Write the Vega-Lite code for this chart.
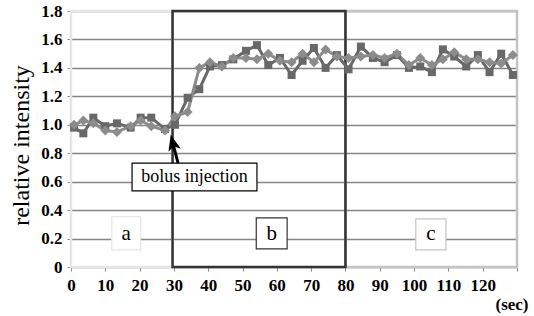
{
  "$schema": "https://vega.github.io/schema/vega-lite/v6.json",
  "width": 446,
  "height": 256,
  "autosize": {"type": "none"},
  "padding": {"left": 71, "top": 11, "right": 17, "bottom": 49},
  "background": "white",
  "config": {"view": {"stroke": null}, "font": "Times New Roman"},
  "datasets": {
    "series": [
      {"t": 0.9, "v": 0.98, "s": "sq"}, {"t": 3.6, "v": 0.94, "s": "sq"}, {"t": 6.5, "v": 1.05, "s": "sq"}, {"t": 10.0, "v": 0.99, "s": "sq"},
      {"t": 13.4, "v": 1.01, "s": "sq"}, {"t": 17.4, "v": 0.98, "s": "sq"}, {"t": 20.3, "v": 1.05, "s": "sq"}, {"t": 23.4, "v": 1.05, "s": "sq"},
      {"t": 27.4, "v": 0.97, "s": "sq"}, {"t": 30.3, "v": 1.0, "s": "sq"}, {"t": 34.0, "v": 1.19, "s": "sq"}, {"t": 37.4, "v": 1.25, "s": "sq"},
      {"t": 40.5, "v": 1.41, "s": "sq"}, {"t": 44.0, "v": 1.42, "s": "sq"}, {"t": 47.3, "v": 1.46, "s": "sq"}, {"t": 51.0, "v": 1.52, "s": "sq"},
      {"t": 54.2, "v": 1.56, "s": "sq"}, {"t": 57.5, "v": 1.42, "s": "sq"}, {"t": 60.9, "v": 1.47, "s": "sq"}, {"t": 64.3, "v": 1.35, "s": "sq"},
      {"t": 67.5, "v": 1.45, "s": "sq"}, {"t": 70.8, "v": 1.54, "s": "sq"}, {"t": 74.2, "v": 1.40, "s": "sq"}, {"t": 77.5, "v": 1.49, "s": "sq"},
      {"t": 80.9, "v": 1.39, "s": "sq"}, {"t": 84.5, "v": 1.55, "s": "sq"}, {"t": 88.0, "v": 1.47, "s": "sq"}, {"t": 91.4, "v": 1.44, "s": "sq"},
      {"t": 95.0, "v": 1.49, "s": "sq"}, {"t": 98.5, "v": 1.40, "s": "sq"}, {"t": 101.8, "v": 1.41, "s": "sq"}, {"t": 105.2, "v": 1.37, "s": "sq"},
      {"t": 108.4, "v": 1.53, "s": "sq"}, {"t": 111.7, "v": 1.48, "s": "sq"}, {"t": 115.2, "v": 1.41, "s": "sq"}, {"t": 118.6, "v": 1.49, "s": "sq"},
      {"t": 122.0, "v": 1.37, "s": "sq"}, {"t": 125.4, "v": 1.50, "s": "sq"}, {"t": 128.8, "v": 1.35, "s": "sq"},
      {"t": 0.9, "v": 1.00, "s": "di"}, {"t": 3.6, "v": 1.03, "s": "di"}, {"t": 6.5, "v": 1.01, "s": "di"}, {"t": 10.0, "v": 0.96, "s": "di"},
      {"t": 13.4, "v": 0.95, "s": "di"}, {"t": 17.4, "v": 0.99, "s": "di"}, {"t": 20.3, "v": 1.03, "s": "di"}, {"t": 23.4, "v": 0.99, "s": "di"},
      {"t": 27.4, "v": 0.96, "s": "di"}, {"t": 30.3, "v": 1.06, "s": "di"}, {"t": 34.0, "v": 1.09, "s": "di"}, {"t": 37.4, "v": 1.40, "s": "di"},
      {"t": 40.5, "v": 1.44, "s": "di"}, {"t": 44.0, "v": 1.41, "s": "di"}, {"t": 47.3, "v": 1.47, "s": "di"}, {"t": 51.0, "v": 1.47, "s": "di"},
      {"t": 54.2, "v": 1.46, "s": "di"}, {"t": 57.5, "v": 1.50, "s": "di"}, {"t": 60.9, "v": 1.45, "s": "di"}, {"t": 64.3, "v": 1.44, "s": "di"},
      {"t": 67.5, "v": 1.50, "s": "di"}, {"t": 70.8, "v": 1.44, "s": "di"}, {"t": 74.2, "v": 1.53, "s": "di"}, {"t": 77.5, "v": 1.48, "s": "di"},
      {"t": 80.9, "v": 1.47, "s": "di"}, {"t": 84.5, "v": 1.48, "s": "di"}, {"t": 88.0, "v": 1.49, "s": "di"}, {"t": 91.4, "v": 1.47, "s": "di"},
      {"t": 95.0, "v": 1.50, "s": "di"}, {"t": 98.5, "v": 1.42, "s": "di"}, {"t": 101.8, "v": 1.47, "s": "di"}, {"t": 105.2, "v": 1.42, "s": "di"},
      {"t": 108.4, "v": 1.46, "s": "di"}, {"t": 111.7, "v": 1.51, "s": "di"}, {"t": 115.2, "v": 1.46, "s": "di"}, {"t": 118.6, "v": 1.46, "s": "di"},
      {"t": 122.0, "v": 1.44, "s": "di"}, {"t": 125.4, "v": 1.43, "s": "di"}, {"t": 128.8, "v": 1.49, "s": "di"}
    ],
    "regions": [
      {"r": "a", "x1": 0, "x2": 29.6},
      {"r": "c", "x1": 80, "x2": 130},
      {"r": "b", "x1": 29.6, "x2": 80}
    ],
    "labels": [
      {"k": "a", "text": "a", "x1": 11.9, "x2": 20.3, "y1": 0.12, "y2": 0.354, "tx": 16.1, "ty": 0.235},
      {"k": "b", "text": "b", "x1": 54.0, "x2": 63.0, "y1": 0.127, "y2": 0.345, "tx": 58.5, "ty": 0.235},
      {"k": "c", "text": "c", "x1": 100.5, "x2": 109.3, "y1": 0.12, "y2": 0.338, "tx": 104.9, "ty": 0.235}
    ],
    "bolus": [
      {"text": "bolus injection", "x1": 17.8, "x2": 54.2, "y1": 0.535, "y2": 0.73, "tx": 36.0, "ty": 0.633}
    ],
    "arrow": [
      {"x1": 31.2, "y1": 0.73, "x2": 29.8, "y2": 0.86, "hx": 29.7, "hy": 0.87}
    ]
  },
  "encoding": {
    "x": {"type": "quantitative", "scale": {"domain": [0, 130], "nice": false, "zero": false},
      "axis": {"values": [0,10,20,30,40,50,60,70,80,90,100,110,120,130], "labelExpr": "datum.value == 130 ? '' : datum.label",
        "labelOverlap": false, "labelFlush": false,
        "grid": false, "domain": false, "tickColor": "#888888", "tickSize": 4, "tickWidth": 1,
        "labelFont": "Times New Roman", "labelFontWeight": "bold", "labelFontSize": 17, "labelColor": "#000000", "labelPadding": 6,
        "title": "(sec)", "titleFont": "Times New Roman", "titleFontWeight": "bold", "titleFontSize": 17, "titleColor": "#000000",
        "titleX": 457, "titleY": 42, "titleAlign": "right", "titleBaseline": "alphabetic"}},
    "y": {"type": "quantitative", "scale": {"domain": [0, 1.8], "nice": false},
      "axis": {"values": [0,0.2,0.4,0.6,0.8,1.0,1.2,1.4,1.6,1.8], "format": ".1f", "labelExpr": "datum.value == 0 ? '0' : datum.label",
        "labelOverlap": false, "labelFlush": false,
        "grid": true, "gridColor": "#858585", "gridWidth": 1.6, "domain": false, "tickColor": "#888888", "tickSize": 4,
        "labelFont": "Times New Roman", "labelFontWeight": "bold", "labelFontSize": 17, "labelColor": "#000000", "labelPadding": 5,
        "title": "relative intensity", "titleFont": "Times New Roman", "titleFontWeight": "normal", "titleFontSize": 24, "titleColor": "#000000",
        "titleX": -50, "titleY": 134, "titleAlign": "center", "titleBaseline": "middle"}}
  },
  "layer": [
    {
      "data": {"name": "regions"},
      "mark": {"type": "rect", "fill": null, "strokeWidth": 2.5},
      "encoding": {
        "x": {"field": "x1"},
        "x2": {"field": "x2"},
        "y": {"datum": 0},
        "y2": {"datum": 1.8},
        "stroke": {"field": "r", "type": "nominal", "scale": {"domain": ["a", "b", "c"], "range": ["#e6e6e6", "#333333", "#c4c4c4"]}, "legend": null}
      }
    },
    {
      "data": {"name": "series"},
      "mark": {"type": "line", "strokeWidth": 3},
      "encoding": {
        "x": {"field": "t"},
        "y": {"field": "v"},
        "detail": {"field": "s"},
        "color": {"field": "s", "type": "nominal", "scale": {"domain": ["sq", "di"], "range": ["#686868", "#8c8c8c"]}, "legend": null}
      }
    },
    {
      "data": {"name": "series"},
      "mark": {"type": "point", "filled": true, "opacity": 1},
      "encoding": {
        "x": {"field": "t"},
        "y": {"field": "v"},
        "color": {"field": "s", "type": "nominal", "legend": null},
        "shape": {"field": "s", "type": "nominal", "scale": {"domain": ["sq", "di"], "range": ["square", "diamond"]}, "legend": null},
        "size": {"field": "s", "type": "nominal", "scale": {"domain": ["sq", "di"], "range": [64, 100]}, "legend": null}
      }
    },
    {
      "data": {"name": "labels"},
      "mark": {"type": "rect", "fill": "white", "strokeWidth": 1.2},
      "encoding": {
        "x": {"field": "x1"},
        "x2": {"field": "x2"},
        "y": {"field": "y1"},
        "y2": {"field": "y2"},
        "stroke": {"field": "k", "type": "nominal", "scale": {"domain": ["a", "b", "c"], "range": ["#dddddd", "#000000", "#d0d0d0"]}, "legend": null}
      }
    },
    {
      "data": {"name": "labels"},
      "mark": {"type": "text", "font": "Times New Roman", "fontWeight": "normal", "fontSize": 21, "color": "#000000", "align": "center", "baseline": "middle"},
      "encoding": {
        "x": {"field": "tx"},
        "y": {"field": "ty"},
        "text": {"field": "text"}
      }
    },
    {
      "data": {"name": "bolus"},
      "mark": {"type": "rect", "fill": "white", "stroke": "#000000", "strokeWidth": 1.2},
      "encoding": {
        "x": {"field": "x1"},
        "x2": {"field": "x2"},
        "y": {"field": "y1"},
        "y2": {"field": "y2"}
      }
    },
    {
      "data": {"name": "bolus"},
      "mark": {"type": "text", "font": "Times New Roman", "fontSize": 18, "color": "#000000", "align": "center", "baseline": "middle"},
      "encoding": {
        "x": {"field": "tx"},
        "y": {"field": "ty"},
        "text": {"field": "text"}
      }
    },
    {
      "data": {"name": "arrow"},
      "mark": {"type": "rule", "color": "#000000", "strokeWidth": 3},
      "encoding": {
        "x": {"field": "x1"},
        "y": {"field": "y1"},
        "x2": {"field": "x2"},
        "y2": {"field": "y2"}
      }
    },
    {
      "data": {"name": "arrow"},
      "mark": {"type": "point", "filled": true, "color": "#000000", "opacity": 1, "size": 324, "angle": 346, "shape": "M0,-1 L0.7,0.8 L0,0.35 L-0.7,0.8 Z"},
      "encoding": {
        "x": {"field": "hx"},
        "y": {"field": "hy"}
      }
    }
  ]
}
